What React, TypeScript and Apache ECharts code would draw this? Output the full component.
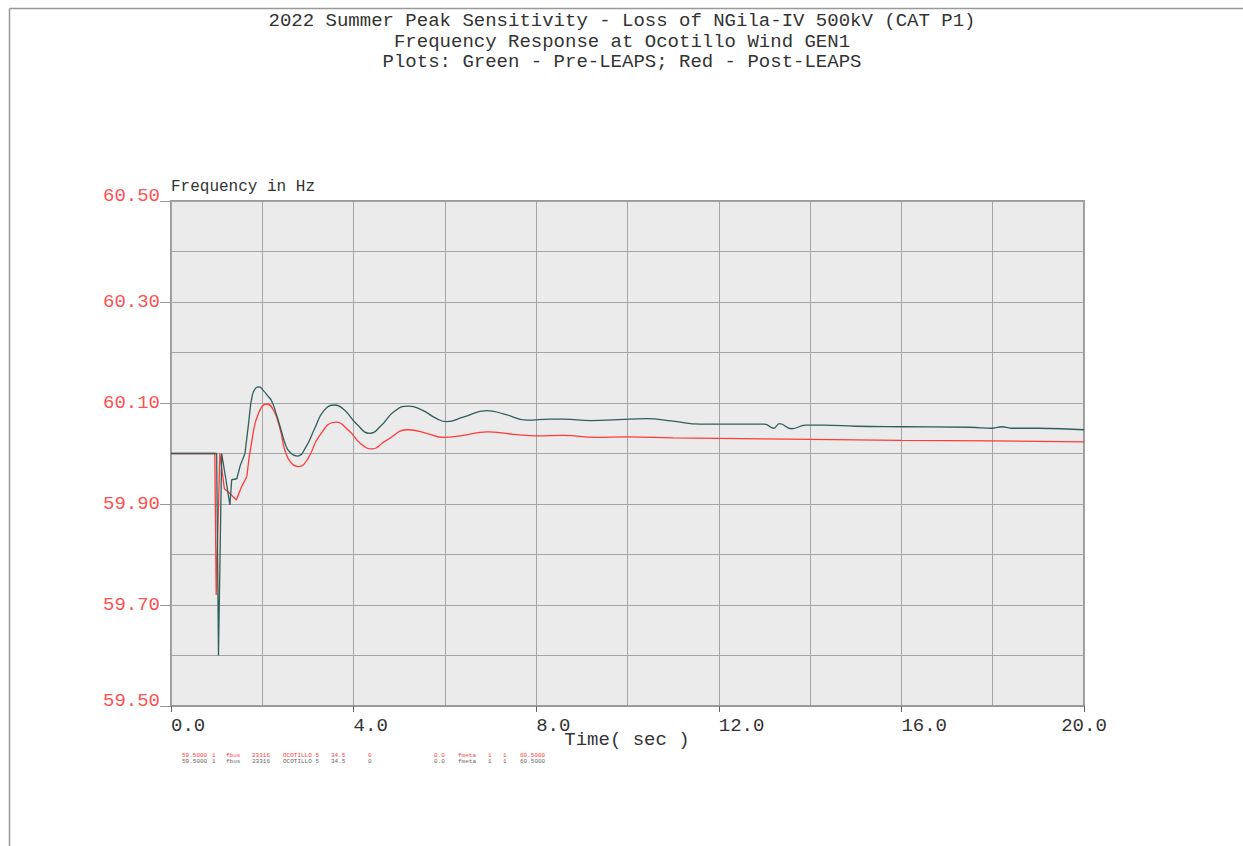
import React, { useEffect, useRef } from "react";
import * as echarts from "echarts";

const titleLines = [
  "2022 Summer Peak Sensitivity - Loss of NGila-IV 500kV (CAT P1)",
  "Frequency Response at Ocotillo Wind GEN1",
  "Plots: Green - Pre-LEAPS; Red - Post-LEAPS",
];
const yAxisTitle = "Frequency in Hz";
const xAxisTitle = "Time( sec )";

// Pre-LEAPS (green): fault transient (straight segments) and recovery (smooth)
const greenEarlyTime = [0, 1.0, 1.04, 1.11, 1.2, 1.29, 1.33, 1.44, 1.52, 1.62];
const greenEarlyFreq = [60.0, 60.0, 59.6, 60.0, 59.95, 59.898, 59.948, 59.95, 59.977, 60.0];
const greenLateTime = [
  1.62, 1.7, 1.78, 1.86, 1.93, 2.02, 2.12, 2.2, 2.3, 2.4, 2.5, 2.6, 2.77, 2.95, 3.15, 3.35, 3.59, 3.8, 4.05,
  4.36, 4.6, 4.9, 5.2, 5.5, 5.8, 6.04, 6.4, 6.92, 7.3, 7.8, 8.3, 8.6, 9.2, 9.8, 10.4, 11.0, 11.6, 12.5, 13.0,
  13.2, 13.33, 13.6, 13.9, 14.3, 15.0, 16.0, 17.5, 18.0, 18.2, 18.4, 19.0, 20.0,
];
const greenLateFreq = [
  60.0, 60.06, 60.115, 60.13, 60.132, 60.125, 60.114, 60.105, 60.08, 60.05, 60.02, 60.003, 59.995, 60.012,
  60.05, 60.085, 60.096, 60.086, 60.06, 60.04, 60.055, 60.084, 60.094, 60.086, 60.07, 60.063, 60.072, 60.085,
  60.078, 60.066, 60.068, 60.068, 60.065, 60.067, 60.069, 60.064, 60.058, 60.058, 60.058, 60.05, 60.059,
  60.049, 60.056, 60.056, 60.054, 60.053, 60.052, 60.05, 60.053, 60.05, 60.05, 60.047,
];

// Post-LEAPS (red)
const redEarlyTime = [0, 0.96, 0.99, 1.07, 1.17, 1.3, 1.43, 1.55, 1.66];
const redEarlyFreq = [60.0, 60.0, 59.72, 60.0, 59.93, 59.92, 59.908, 59.935, 59.954];
const redLateTime = [
  1.66, 1.78, 1.92, 2.1, 2.25, 2.4, 2.5, 2.65, 2.79, 3.0, 3.25, 3.61, 3.9, 4.15, 4.4, 4.7, 5.2, 5.6, 5.97,
  6.4, 6.92, 7.5, 8.0, 8.6, 9.3, 10.0, 11.0, 12.0, 14.0, 16.0, 18.0, 20.0,
];
const redLateFreq = [
  59.954, 60.03, 60.08, 60.098, 60.085, 60.045, 60.005, 59.98, 59.974, 59.99, 60.035, 60.062, 60.045, 60.02,
  60.009, 60.025, 60.047, 60.04, 60.032, 60.036, 60.043, 60.038, 60.035, 60.036, 60.032, 60.033, 60.031,
  60.03, 60.028, 60.026, 60.025, 60.023,
];

const legendColumns = ["59.5000", "1", "fbus", "23316", "OCOTILLO 5", "34.5", "0", "0.0", "fmeta", "1", "1", "60.5000"];
const legendColumnX = [182, 212, 226, 252, 283, 331, 368, 434, 458, 488, 503, 520];

const GREEN = "#2f5f5a";
const RED = "#ff3b3b";
const MONO = "'Liberation Mono', 'DejaVu Sans Mono', monospace";

export default function App() {
  const ref = useRef<HTMLDivElement>(null);
  useEffect(() => {
    document.body.style.margin = "0";
    const chart = echarts.init(ref.current!, undefined, { renderer: "svg" });
    const toPairs = (t: number[], v: number[]) => t.map((x, i) => [x, v[i]]);
    const graphics: any[] = [
      { type: "line", shape: { x1: 9.5, y1: 8.5, x2: 1243, y2: 8.5 }, style: { stroke: "#999", lineWidth: 1.5 } },
      { type: "line", shape: { x1: 9.5, y1: 8.5, x2: 9.5, y2: 846 }, style: { stroke: "#999", lineWidth: 1.5 } },
      ...titleLines.map((t, i) => ({
        type: "text",
        x: 622,
        y: 21 + i * 20.5,
        style: { text: t, font: `19px ${MONO}`, fill: "#333", textAlign: "center", textVerticalAlign: "middle" },
      })),
      {
        type: "text",
        x: 171,
        y: 187,
        style: { text: yAxisTitle, font: `16px ${MONO}`, fill: "#333", textAlign: "left", textVerticalAlign: "middle" },
      },
      {
        type: "text",
        x: 627,
        y: 740,
        style: { text: xAxisTitle, font: `19px ${MONO}`, fill: "#333", textAlign: "center", textVerticalAlign: "middle" },
      },
    ];
    [RED, "#666"].forEach((c, r) => {
      legendColumns.forEach((txt, i) => {
        graphics.push({
          type: "text",
          x: legendColumnX[i],
          y: 755 + r * 6.5,
          style: { text: txt, font: `6px ${MONO}`, fill: c, textAlign: "left", textVerticalAlign: "middle" },
        });
      });
    });

    const line = (data: number[][], color: string, smooth: number | boolean) => ({
      type: "line",
      xAxisIndex: 0,
      yAxisIndex: 0,
      data,
      showSymbol: false,
      smooth,
      lineStyle: { color, width: 1.3 },
      itemStyle: { color },
    });

    chart.setOption({
      animation: false,
      backgroundColor: "#fff",
      grid: {
        left: 171,
        top: 201,
        width: 913,
        height: 505,
        show: true,
        backgroundColor: "#ebebeb",
        borderColor: "#9a9a9a",
        borderWidth: 2,
      },
      xAxis: [
        {
          type: "value",
          min: 0,
          max: 20,
          interval: 2,
          axisLine: { show: false },
          axisTick: { show: false },
          axisLabel: { show: false },
          splitLine: { show: true, lineStyle: { color: "#a4a4a4", width: 1 } },
        },
        {
          type: "value",
          min: 0,
          max: 20,
          interval: 4,
          position: "bottom",
          axisLine: { show: true, lineStyle: { color: "#9a9a9a", width: 2 } },
          axisTick: { show: true, length: 6, lineStyle: { color: "#666" } },
          splitLine: { show: false },
          axisLabel: {
            show: true,
            margin: 10,
            color: "#333",
            fontFamily: MONO,
            fontSize: 19,
            align: "left",
            alignMaxLabel: "center",
            formatter: (v: number) => v.toFixed(1),
          },
        },
      ],
      yAxis: [
        {
          type: "value",
          min: 59.5,
          max: 60.5,
          interval: 0.1,
          axisLine: { show: false },
          axisTick: { show: false },
          axisLabel: { show: false },
          splitLine: { show: true, lineStyle: { color: "#a4a4a4", width: 1 } },
        },
        {
          type: "value",
          min: 59.5,
          max: 60.5,
          interval: 0.2,
          position: "left",
          axisLine: { show: false },
          axisTick: { show: true, length: 11, lineStyle: { color: "#999" } },
          splitLine: { show: false },
          axisLabel: {
            show: true,
            margin: 11,
            color: "#ff5050",
            fontFamily: MONO,
            fontSize: 19,
            lineHeight: 10,
            verticalAlignMinLabel: "bottom",
            verticalAlignMaxLabel: "bottom",
            formatter: (v: number) => v.toFixed(2),
          },
        },
      ],
      series: [
        line(toPairs(redEarlyTime, redEarlyFreq), RED, false),
        line(toPairs(redLateTime, redLateFreq), RED, 0.5),
        line(toPairs(greenEarlyTime, greenEarlyFreq), GREEN, false),
        line(toPairs(greenLateTime, greenLateFreq), GREEN, 0.5),
      ],
      graphic: graphics,
    });
    return () => chart.dispose();
  }, []);
  return <div ref={ref} style={{ width: 1243, height: 846 }} />;
}
